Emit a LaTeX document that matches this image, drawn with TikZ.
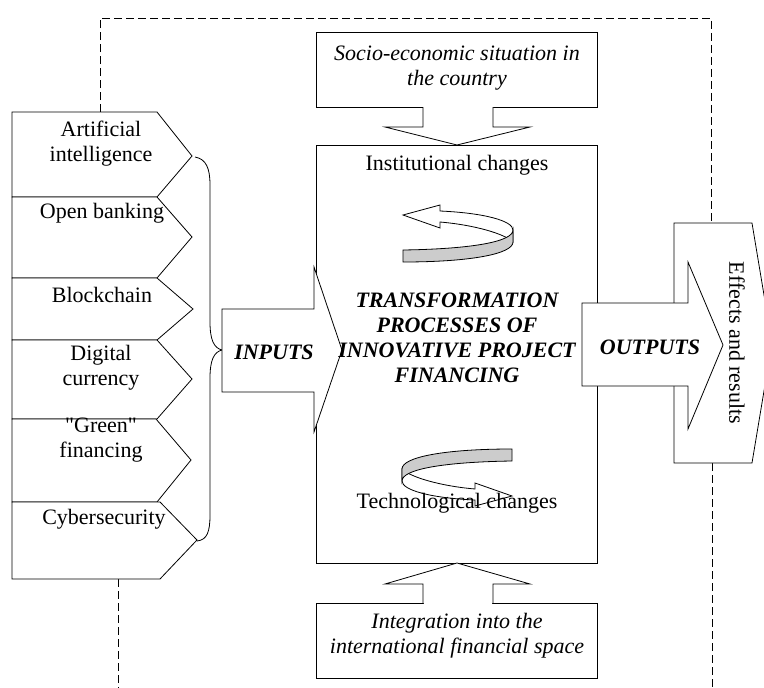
\documentclass[tikz,border=0pt]{standalone}
\usepackage{fontspec}
\setmainfont{Liberation Serif}
\newfontfamily\qfont{Liberation Serif}[Ligatures=TeXOff]
\begin{document}
\begin{tikzpicture}[x=1pt,y=-1pt,line width=0.8pt,
  shp/.style={draw=black,fill=white,line join=miter},
  txt/.style={font=\fontsize{22}{25}\selectfont,align=center,inner sep=0pt},
  dsh/.style={dash pattern=on 8pt off 4pt,line width=0.7pt},
  ribbon/.pic={
    \filldraw[fill=white] (-55,-21) -- (-18,-31) -- (-18,-25)
      .. controls (27,-23) and (55,-15) .. (55,-6) -- (55,6)
      .. controls (47,-2) and (17,-11) .. (-18,-14) -- (-18,-8) -- cycle;
    \filldraw[fill=gray!40] (-55,14) .. controls (12,13) and (55,6) .. (55,-6)
      -- (55,6) .. controls (55,18) and (12,26) .. (-55,26) -- cycle;
  }]
\useasboundingbox (0,0) rectangle (764,688);
\clip (0,0) rectangle (764,688);
\fill[white] (0,0) rectangle (764,688);

% named coordinates
\coordinate (dTL) at (100,18);
\coordinate (dTR) at (711,18);
\coordinate (aiTop) at (100,112);
\coordinate (efTop) at (711,223);
\coordinate (efBot) at (712,463);
\coordinate (efEnd) at (712,688);
\coordinate (cyBot) at (118,579);
\coordinate (cyEnd) at (118,688);
\coordinate (aiTip) at (192,156);
\coordinate (cyTip) at (197,541);

% dashed feedback lines
\draw[dsh] (aiTop) -- (dTL) -- (dTR) -- (efTop);
\draw[dsh] (efBot) -- (efEnd);
\draw[dsh] (cyBot) -- (cyEnd);

% left pentagon boxes
\draw[shp] (12,112) -- (157,112) -- (192,156) -- (157,197) -- (12,197) -- cycle;
\draw[shp] (12,197) -- (157,197) -- (192,237) -- (157,278) -- (12,278) -- cycle;
\draw[shp] (12,278) -- (157,278) -- (193,309) -- (157,340) -- (12,340) -- cycle;
\draw[shp] (12,340) -- (157,340) -- (192,379) -- (157,419) -- (12,419) -- cycle;
\draw[shp] (12,419) -- (156,419) -- (191,460) -- (157,502) -- (12,502) -- cycle;
\draw[shp] (12,502) -- (160,502) -- (197,540) -- (160,579) -- (12,579) -- cycle;

\node[txt] (ai) at (101,144) {Artificial\\intelligence};
\node[txt] (ob) at (102,213) {Open banking};
\node[txt] (bc) at (102,295) {Blockchain};
\node[txt] (dc) at (101,368) {Digital\\currency};
\node[txt,font=\fontsize{22}{25}\selectfont\qfont] (gf) at (101,440) {"Green"\\financing};
\node[txt] (cs) at (104,519) {Cybersecurity};

% brace
\coordinate (cusp) at (222,350);
\draw[line width=0.8pt] (aiTip) ++(3,1) .. controls (206,159) and (210,168) .. (210,185)
  -- (210,322) .. controls (210,340) and (214,348) .. (cusp)
  .. controls (214,352) and (210,360) .. (210,378)
  -- (210,515) .. controls (210,532) and (207,540) .. (cyTip);

% top box and arrow
\draw[shp] (316,32) rectangle (597,107);
\node[txt,font=\fontsize{22}{25}\selectfont\itshape] (socio) at (457,68) {Socio-economic situation in\\the country};

% main box
\draw[shp] (316,145) rectangle (597,563);

\fill[white] (424,105) rectangle (492,127);
\filldraw[fill=white] (423,107) -- (423,127) -- (385,127) -- (457,145) -- (530,127) -- (493,127) -- (493,107);

% bottom box and arrow
\draw[shp] (316,603) rectangle (597,678);
\node[txt,font=\fontsize{22}{25}\selectfont\itshape] (integ) at (457,636) {Integration into the\\international financial space};
\fill[white] (424,584) rectangle (492,605);
\filldraw[fill=white] (423,603) -- (423,584) -- (385,584) -- (457,563) -- (530,584) -- (493,584) -- (493,603);

% effects box
\draw[shp] (674,223) -- (752,223) -- (772,343) -- (752,463) -- (674,463) -- cycle;
\node[txt,rotate=-90] (eff) at (737,343) {Effects and results};

% INPUTS arrow
\draw[shp] (314,309) -- (222,309) -- (222,392) -- (314,392) -- (314,432) -- (342,350) -- (314,267) -- cycle;
\node[txt,font=\fontsize{22}{25}\selectfont\bfseries\itshape] (inp) at (274,352) {INPUTS};

% OUTPUTS arrow
\draw[shp] (582,303) -- (688,303) -- (688,262) -- (723,345) -- (688,429) -- (688,386) -- (582,386) -- cycle;
\node[txt,font=\fontsize{22}{25}\selectfont\bfseries\itshape] (outp) at (650,347) {OUTPUTS};

% curved ribbons
\pic at (458,236) {ribbon};
\pic[rotate=180] at (457,475) {ribbon};

% main texts
\node[txt] (inst) at (457,165) {Institutional changes};
\node[txt,font=\fontsize{22}{25}\selectfont\bfseries\itshape] (title) at (457,338)
  {TRANSFORMATION\\PROCESSES OF\\INNOVATIVE PROJECT\\FINANCING};
\node[txt] (tech) at (457,503) {Technological changes};
\end{tikzpicture}
\end{document}
